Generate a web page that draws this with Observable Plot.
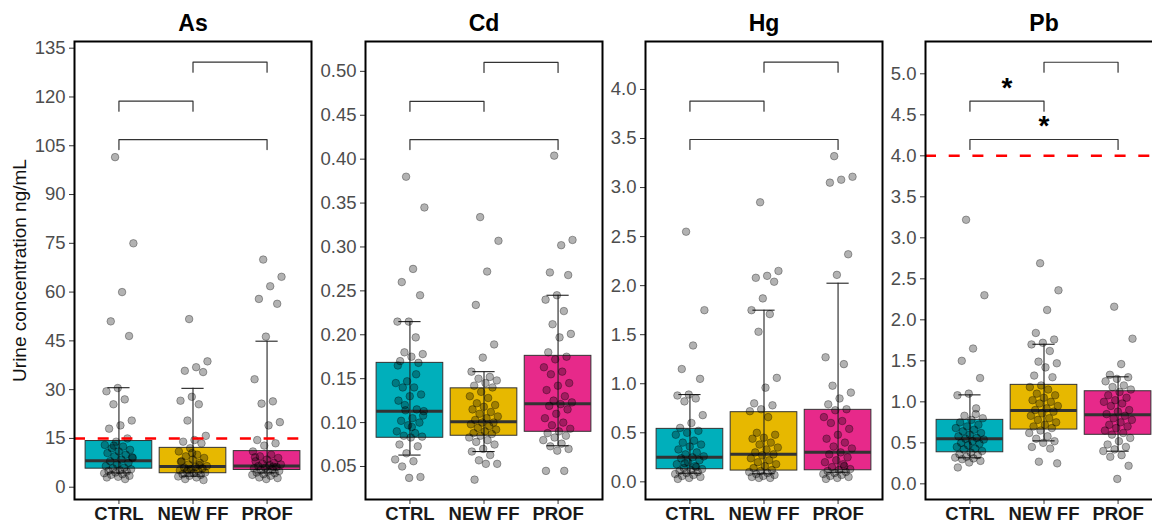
<!DOCTYPE html>
<html><head><meta charset="utf-8">
<script src="https://cdn.jsdelivr.net/npm/d3@7"></script>
<script src="https://cdn.jsdelivr.net/npm/@observablehq/plot@0.6"></script>
<style>
body{margin:0;background:#fff;overflow:hidden;}
#chart{position:relative;width:1152px;height:523px;overflow:hidden;background:#fff;}
.panel{position:absolute;top:0;}
.panel svg{max-width:none !important;}
</style></head><body><div id="chart"></div>
<script>
const groups = ["CTRL", "NEW FF", "PROF"];
const colors = ["#00AFBB", "#E7B800", "#E7298A"];
const panels = ["As", "Cd", "Hg", "Pb"];
const yLabel = "Urine concentration ng/mL";
// bracket pairs (group indices): CTRL–PROF, CTRL–NEW FF, NEW FF–PROF
const pairs = [[0, 2], [0, 1], [1, 2]];

// ---- As ----
const asLo = [4.4, 3.4, 4.4], asQ1 = [5.7, 4.3, 5.3], asMed = [8.1, 6.4, 6.5], asQ3 = [14.2, 12.1, 11.1], asHi = [30.6, 30.4, 44.9];
const asCTRL = [101.5, 75, 60, 51, 46.5, 30.5, 29.5, 27, 25.5, 20.5, 19, 18, 15, 14, 13, 12.5, 12, 11.5, 11, 10.5, 10, 9.5, 9, 8.5, 8, 7.5, 7, 6.5, 6, 5.8, 5.5, 5.2, 5, 4.8, 4.5, 4.3, 4, 3.8, 3.5, 3.2, 3, 2.5, 12.8, 9.2];
const asNEWFF = [51.7, 38.7, 36.9, 35.8, 35.4, 27.8, 26.6, 25.5, 20.5, 15.8, 14.5, 14, 13.5, 12, 11, 10, 9.5, 9, 8.5, 8, 7.5, 7, 6.5, 6.2, 6, 5.8, 5.5, 5.2, 5, 4.8, 4.5, 4.3, 4, 3.8, 3.5, 3.3, 3, 2.5, 2.2, 10.5, 7.8, 6.8, 5.3];
const asPROF = [70, 64.7, 61.8, 57.9, 56.4, 46.3, 33.2, 26.4, 25.7, 20, 19, 14.5, 13.5, 12.8, 11, 10, 9.5, 9, 8.5, 8, 7.5, 7.2, 7, 6.8, 6.5, 6.2, 6, 5.8, 5.5, 5.3, 5, 4.8, 4.5, 4.3, 4, 3.8, 3.5, 3, 2.8, 2.5, 9.2, 6.3];
const asTicks = [0, 15, 30, 45, 60, 75, 90, 105, 120, 135];
const asBrackets = [106.9, 118.7, 130.7];
const asLimit = 15;

// ---- Cd ----
const cdLo = [0.063, 0.067, 0.0736], cdQ1 = [0.0827, 0.085, 0.0895], cdMed = [0.113, 0.101, 0.1214], cdQ3 = [0.168, 0.139, 0.176], cdHi = [0.215, 0.158, 0.245];
const cdCTRL = [0.38, 0.345, 0.275, 0.26, 0.245, 0.215, 0.215, 0.197, 0.18, 0.178, 0.175, 0.17, 0.168, 0.147, 0.145, 0.14, 0.14, 0.132, 0.13, 0.125, 0.115, 0.114, 0.113, 0.105, 0.102, 0.10, 0.097, 0.09, 0.088, 0.085, 0.084, 0.083, 0.075, 0.073, 0.065, 0.058, 0.056, 0.05, 0.038, 0.037, 0.165, 0.155, 0.12, 0.108, 0.095];
const cdNEWFF = [0.334, 0.307, 0.272, 0.234, 0.189, 0.174, 0.158, 0.152, 0.15, 0.148, 0.145, 0.142, 0.14, 0.135, 0.13, 0.128, 0.122, 0.12, 0.118, 0.115, 0.112, 0.11, 0.107, 0.105, 0.103, 0.10, 0.10, 0.098, 0.096, 0.094, 0.092, 0.09, 0.088, 0.087, 0.085, 0.083, 0.08, 0.078, 0.075, 0.07, 0.067, 0.063, 0.057, 0.053, 0.053, 0.035];
const cdPROF = [0.404, 0.308, 0.302, 0.271, 0.268, 0.245, 0.24, 0.227, 0.212, 0.201, 0.197, 0.18, 0.175, 0.172, 0.163, 0.158, 0.155, 0.145, 0.142, 0.137, 0.13, 0.125, 0.123, 0.121, 0.119, 0.115, 0.11, 0.105, 0.1, 0.097, 0.093, 0.09, 0.088, 0.085, 0.083, 0.08, 0.076, 0.073, 0.07, 0.068, 0.045, 0.045];
const cdTicks = [0.05, 0.10, 0.15, 0.20, 0.25, 0.30, 0.35, 0.40, 0.45, 0.50];
const cdBrackets = [0.4223, 0.4659, 0.5102];

// ---- Hg ----
const hgLo = [0.088, 0.082, 0.098], hgQ1 = [0.129, 0.115, 0.118], hgMed = [0.251, 0.282, 0.302], hgQ3 = [0.54, 0.71, 0.734], hgHi = [0.89, 1.75, 2.025];
const hgCTRL = [2.55, 1.75, 1.39, 1.15, 1.05, 0.89, 0.88, 0.85, 0.82, 0.68, 0.6, 0.55, 0.52, 0.5, 0.48, 0.42, 0.4, 0.38, 0.36, 0.33, 0.3, 0.28, 0.26, 0.25, 0.24, 0.22, 0.2, 0.18, 0.16, 0.14, 0.13, 0.12, 0.11, 0.1, 0.09, 0.08, 0.07, 0.06, 0.05, 0.04, 0.03, 0.15, 0.19];
const hgNEWFF = [2.85, 2.15, 2.1, 2.08, 2.04, 1.87, 1.75, 1.71, 1.53, 1.06, 0.96, 0.8, 0.78, 0.74, 0.72, 0.66, 0.5, 0.48, 0.45, 0.44, 0.4, 0.38, 0.35, 0.33, 0.3, 0.28, 0.27, 0.24, 0.22, 0.2, 0.18, 0.16, 0.14, 0.12, 0.11, 0.1, 0.09, 0.08, 0.07, 0.06, 0.05, 0.04, 0.04];
const hgPROF = [3.32, 3.11, 3.08, 3.05, 2.32, 2.11, 1.27, 1.2, 0.98, 0.91, 0.85, 0.79, 0.74, 0.73, 0.66, 0.62, 0.6, 0.54, 0.48, 0.44, 0.4, 0.36, 0.34, 0.3, 0.28, 0.25, 0.22, 0.2, 0.18, 0.15, 0.13, 0.12, 0.11, 0.1, 0.09, 0.08, 0.07, 0.06, 0.05, 0.04, 0.03, 0.16];
const hgTicks = [0, 0.5, 1, 1.5, 2, 2.5, 3, 3.5, 4];
const hgBrackets = [3.49, 3.881, 4.278];

// ---- Pb ----
const pbLo = [0.317, 0.524, 0.398], pbQ1 = [0.385, 0.662, 0.598], pbMed = [0.549, 0.894, 0.841], pbQ3 = [0.78, 1.207, 1.129], pbHi = [1.085, 1.702, 1.305];
const pbCTRL = [3.22, 2.3, 1.65, 1.5, 1.29, 1.1, 1.08, 0.85, 0.83, 0.8, 0.78, 0.75, 0.72, 0.7, 0.68, 0.66, 0.64, 0.62, 0.6, 0.58, 0.56, 0.55, 0.54, 0.52, 0.5, 0.49, 0.47, 0.45, 0.43, 0.42, 0.4, 0.38, 0.36, 0.35, 0.33, 0.32, 0.31, 0.3, 0.28, 0.26, 0.2, 0.92];
const pbNEWFF = [2.69, 2.36, 2.12, 1.84, 1.76, 1.72, 1.7, 1.62, 1.49, 1.47, 1.42, 1.32, 1.3, 1.2, 1.18, 1.15, 1.1, 1.08, 1.05, 1.02, 1.0, 0.98, 0.95, 0.92, 0.9, 0.88, 0.86, 0.83, 0.8, 0.78, 0.75, 0.72, 0.7, 0.68, 0.65, 0.62, 0.58, 0.55, 0.52, 0.5, 0.45, 0.43, 0.27, 0.25];
const pbPROF = [2.16, 1.77, 1.46, 1.33, 1.3, 1.28, 1.25, 1.2, 1.18, 1.15, 1.12, 1.08, 1.05, 1.02, 1.0, 0.98, 0.95, 0.9, 0.88, 0.85, 0.83, 0.8, 0.78, 0.75, 0.72, 0.7, 0.68, 0.65, 0.62, 0.6, 0.56, 0.52, 0.48, 0.45, 0.42, 0.4, 0.35, 0.33, 0.22, 0.06];
const pbTicks = [0, 0.5, 1, 1.5, 2, 2.5, 3, 3.5, 4, 4.5, 5];
const pbBrackets = [4.199, 4.666, 5.141];
const pbSig = ["*", "*", ""];
const pbLimit = 4;

const FONT = '"Liberation Sans", Arial, Helvetica, sans-serif';
const FRAME_W = 237;
// deterministic horizontal jitter (±0.2 of a category step)
const jit = k => (((k * 0.6180339887 + 0.37) % 1) - 0.5) * 0.4;

function makePanel(cfg) {
  const {name, domain, ticks, fmt, lo, q1, med, q3, hi, pts, brY, brTick, refY, sig, marginLeft, ylabel} = cfg;
  const boxes = groups.map((g, i) => ({i, g, lo: lo[i], q1: q1[i], med: med[i], q3: q3[i], hi: hi[i]}));
  const dots = pts.flatMap((arr, gi) => arr.map((v, k) => ({x: gi + jit(k), y: v})));
  const brackets = pairs.flatMap(([a, b], k) => [
    {k, x: a, y: brY[k] - brTick}, {k, x: a, y: brY[k]},
    {k, x: b, y: brY[k]}, {k, x: b, y: brY[k] - brTick}]);
  const sigs = pairs.map(([a, b], k) => ({x: (a + b) / 2, y: brY[k], t: sig ? sig[k] : ""})).filter(d => d.t);
  return Plot.plot({
    width: marginLeft + FRAME_W + 3, height: 523,
    marginLeft, marginRight: 3, marginTop: 41, marginBottom: 24,
    style: {background: "transparent", fontFamily: FONT, overflow: "visible", maxWidth: "none"},
    x: {domain: [-0.6, 2.6]},
    y: {domain},
    marks: [
      Plot.rect(boxes, {x1: d => d.i - 0.45, x2: d => d.i + 0.45, y1: "q1", y2: "q3", fill: d => colors[d.i], stroke: "#333", strokeWidth: 1}),
      Plot.ruleX(boxes, {x: "i", y1: "lo", y2: "hi", stroke: "#222", strokeWidth: 1.1}),
      Plot.ruleY(boxes, {y: "lo", x1: d => d.i - 0.15, x2: d => d.i + 0.15, stroke: "#222", strokeWidth: 1.1}),
      Plot.ruleY(boxes, {y: "hi", x1: d => d.i - 0.15, x2: d => d.i + 0.15, stroke: "#222", strokeWidth: 1.1}),
      Plot.ruleY(boxes, {y: "med", x1: d => d.i - 0.45, x2: d => d.i + 0.45, stroke: "#333", strokeWidth: 3}),
      Plot.dot(dots, {x: "x", y: "y", r: 3.8, fill: "black", fillOpacity: 0.3, stroke: "black", strokeOpacity: 0.4, strokeWidth: 0.8}),
      refY != null ? Plot.ruleY([refY], {stroke: "#FF0000", strokeWidth: 2.6, strokeDasharray: "11,12.7"}) : null,
      Plot.line(brackets, {x: "x", y: "y", z: "k", stroke: "#333", strokeWidth: 1.2}),
      Plot.text(sigs, {x: "x", y: "y", text: "t", fontSize: 28, fontWeight: "bold", fill: "black", dy: -13}),
      Plot.text([name], {frameAnchor: "top", text: d => d, dy: -18, fontSize: 23, fontWeight: "bold", lineAnchor: "middle", fill: "black"}),
      Plot.axisY({ticks, tickFormat: fmt, tickSize: 5, tickPadding: 4, fontSize: 18.5, fill: "#4D4D4D", stroke: "#333", label: null}),
      ylabel ? Plot.text([ylabel], {frameAnchor: "left", text: d => d, rotate: -90, dx: -55, fontSize: 19, fill: "#111", textAnchor: "middle", lineAnchor: "middle"}) : null,
      Plot.axisX({ticks: [0, 1, 2], tickFormat: i => groups[i], tickSize: 5, tickPadding: 2, fontSize: 18.5, fontWeight: "bold", fill: "#1A1A1A", stroke: "#333", label: null}),
      Plot.frame({stroke: "black", strokeWidth: 2})
    ]
  });
}

const specs = [
  {name: panels[0], frameLeft: 74, marginLeft: 74, domain: [-3.78, 137.06], ticks: asTicks, fmt: d3.format("d"),
   lo: asLo, q1: asQ1, med: asMed, q3: asQ3, hi: asHi, pts: [asCTRL, asNEWFF, asPROF], brY: asBrackets, brTick: 3.07, refY: asLimit, ylabel: yLabel},
  {name: panels[1], frameLeft: 365, marginLeft: 50, domain: [0.0124, 0.534], ticks: cdTicks, fmt: d3.format(".2f"),
   lo: cdLo, q1: cdQ1, med: cdMed, q3: cdQ3, hi: cdHi, pts: [cdCTRL, cdNEWFF, cdPROF], brY: cdBrackets, brTick: 0.0114},
  {name: panels[2], frameLeft: 645, marginLeft: 42, domain: [-0.18, 4.489], ticks: hgTicks, fmt: d3.format(".1f"),
   lo: hgLo, q1: hgQ1, med: hgMed, q3: hgQ3, hi: hgHi, pts: [hgCTRL, hgNEWFF, hgPROF], brY: hgBrackets, brTick: 0.102},
  {name: panels[3], frameLeft: 925, marginLeft: 42, domain: [-0.191, 5.394], ticks: pbTicks, fmt: d3.format(".1f"),
   lo: pbLo, q1: pbQ1, med: pbMed, q3: pbQ3, hi: pbHi, pts: [pbCTRL, pbNEWFF, pbPROF], brY: pbBrackets, brTick: 0.122, refY: pbLimit, sig: pbSig}
];

const chart = document.getElementById("chart");
for (const s of specs) {
  const div = document.createElement("div");
  div.className = "panel";
  div.style.left = (s.frameLeft - s.marginLeft) + "px";
  div.style.width = (s.marginLeft + FRAME_W + 3) + "px";
  div.appendChild(makePanel(s));
  chart.appendChild(div);
}
</script></body></html>
